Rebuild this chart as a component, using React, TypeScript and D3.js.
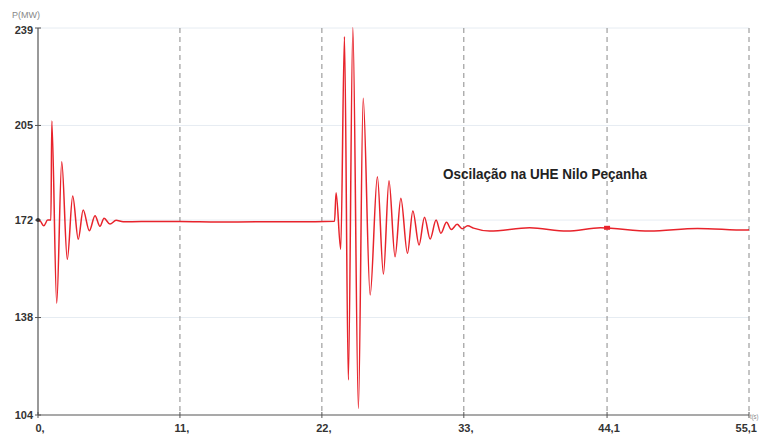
import React from "react";
import * as d3 from "d3";

const W = 759;
const H = 436;

// time (s) and active power P (MW)
const timeS: number[] = [
  0, 0.2, 0.45, 0.75, 1.0, 1.07, 1.45, 1.84, 2.27, 2.69, 3.12, 3.5, 3.98, 4.42, 4.8, 5.12, 5.58, 6.05, 6.6,
  8, 11, 14, 17, 20, 22.98,
  23.1, 23.46, 23.75, 24.05, 24.4, 24.83, 25.2, 25.74, 26.3, 26.77, 27.2, 27.67, 28.12, 28.63, 29.05, 29.53,
  29.95, 30.39, 30.85, 31.22, 31.66, 32.03, 32.48, 32.87, 33.3, 33.75,
  35.0, 38.1, 41.0, 43.6, 47.4, 51.1, 54.9, 55.1,
];
const powerMW: number[] = [
  172, 171.5, 170, 172, 172, 206.6, 143, 192.3, 158.3, 180.4, 165.3, 175.5, 168.3, 173.5, 169.8, 172.6, 170.6, 171.9, 171.4,
  171.5, 171.5, 171.3, 171.4, 171.4, 171.6,
  181.5, 161.8, 236, 116.2, 239.2, 106.3, 214.5, 145.9, 187.1, 153.2, 185.7, 159.2, 179.6, 160.4, 175.2, 163.3,
  173.0, 165.4, 172, 167.4, 171.2, 168.7, 170.5, 169.0, 170.0, 169.2,
  168.2, 169.3, 168.2, 169.3, 168.2, 169.1, 168.5, 168.6,
];

const yTicks: number[] = [104, 138, 172, 205, 239];
const xTicks: number[] = [0, 11, 22, 33, 44.1, 55.1];
const xTickLabels: string[] = ["0,", "11,", "22,", "33,", "44,1", "55,1"];
const annotation = "Oscilação na UHE Nilo Peçanha";

const data = timeS.map((t, i) => ({ t, p: powerMW[i] }));

export default function App() {
  const x = d3.scaleLinear().domain([0, 55.1]).range([38, 749]);
  const y = d3.scaleLinear().domain([104, 239]).range([415, 28]);
  const line = d3
    .line<{ t: number; p: number }>()
    .x((d) => x(d.t))
    .y((d) => y(d.p))
    .curve(d3.curveMonotoneX);

  const font = "'Liberation Sans Narrow', 'Liberation Sans', Arial, sans-serif";

  return (
    <svg
      width={W}
      height={H}
      style={{ position: "absolute", left: 0, top: 0, background: "#fff" }}
      fontFamily={font}
    >
      {/* horizontal faint gridlines */}
      {yTicks.slice(1).map((v) => (
        <line key={"hg" + v} x1={x(0)} x2={x(55.1)} y1={y(v)} y2={y(v)} stroke="#e6ecf2" strokeWidth={1} />
      ))}
      {/* vertical dashed gridlines */}
      {xTicks.slice(1).map((v) => (
        <line
          key={"vg" + v}
          x1={x(v)}
          x2={x(v)}
          y1={y(239)}
          y2={y(104)}
          stroke="#8a8a8a"
          strokeWidth={1}
          strokeDasharray="5,4"
        />
      ))}
      {/* axes */}
      <line x1={x(0)} x2={x(0)} y1={y(239)} y2={y(104)} stroke="#555" strokeWidth={1.2} />
      <line x1={x(0)} x2={x(55.1)} y1={y(104)} y2={y(104)} stroke="#555" strokeWidth={1.2} />
      {yTicks.map((v) => (
        <g key={"yt" + v}>
          <line x1={x(0) - 3} x2={x(0) + 3} y1={y(v)} y2={y(v)} stroke="#555" />
          <text
            x={33}
            y={y(v) + (v === 239 ? 2 : 0)}
            dy="0.35em"
            textAnchor="end"
            fontSize={11}
            fontWeight="bold"
            fill="#333"
          >
            {v}
          </text>
        </g>
      ))}
      {xTicks.map((v, i) => {
        const last = i === xTicks.length - 1;
        return (
          <g key={"xt" + v}>
            <line x1={x(v)} x2={x(v)} y1={y(104) - 3} y2={y(104) + 3} stroke="#555" />
            <text
              x={last ? 757 : x(v) + 2}
              y={432}
              textAnchor={last ? "end" : "middle"}
              fontSize={11}
              fontWeight="bold"
              fill="#333"
            >
              {xTickLabels[i]}
            </text>
          </g>
        );
      })}
      <text x={12} y={18} fontSize={9} fill="#888">
        P(MW)
      </text>
      <text x={750} y={419} fontSize={7} fill="#888" textLength={8.5} lengthAdjust="spacingAndGlyphs">
        t(s)
      </text>
      {/* signal */}
      <path d={line(data) ?? ""} fill="none" stroke="#e8232b" strokeWidth={1.5} strokeLinejoin="round" />
      <circle cx={x(0)} cy={y(172)} r={2} fill="#333" />
      <rect x={x(44.1) - 3} y={y(169.3) - 2} width={6} height={4} fill="#e8232b" />
      <text
        x={443}
        y={179}
        fontSize={15}
        fontWeight="bold"
        fill="#222"
        textLength={204}
        lengthAdjust="spacingAndGlyphs"
      >
        {annotation}
      </text>
    </svg>
  );
}
